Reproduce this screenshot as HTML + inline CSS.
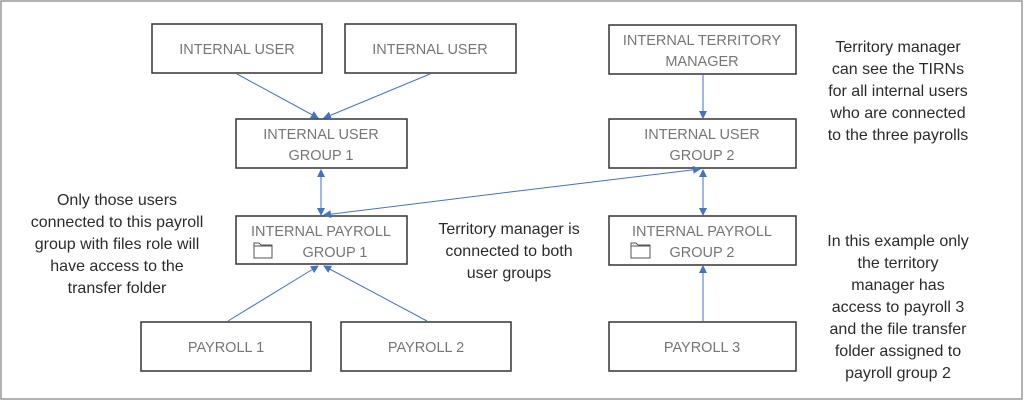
<!DOCTYPE html>
<html><head><style>
body{margin:0;width:1024px;height:401px;background:#fff;overflow:hidden;}
svg{display:block}
.b{fill:#fff;stroke:#333;stroke-width:1.5}
.t{font-family:"Liberation Sans",sans-serif;font-size:14.5px;fill:#767676;text-anchor:middle}
.a{font-family:"Liberation Sans",sans-serif;font-size:16px;fill:#2b2b2b;text-anchor:middle}
.l{stroke:#4472C4;stroke-width:1;fill:none}
</style></head><body>
<svg width="1024" height="401" viewBox="0 0 1024 401">
<defs><marker id="m" markerWidth="8" markerHeight="8" refX="7" refY="4" orient="auto" markerUnits="userSpaceOnUse"><path d="M0,0 L8,4 L0,8 z" fill="#4472C4"/></marker></defs>
<rect x="1" y="1" width="1021" height="398" fill="none" stroke="#999" stroke-width="1.5"/>
<rect class="b" x="152" y="24" width="170" height="49"/><text class="t" x="237" y="54">INTERNAL USER</text>
<rect class="b" x="345" y="24" width="171" height="49"/><text class="t" x="430" y="54">INTERNAL USER</text>
<rect class="b" x="236" y="119" width="171" height="49"/><text class="t" x="321" y="139">INTERNAL USER</text><text class="t" x="321" y="160">GROUP 1</text>
<rect class="b" x="236" y="216" width="171" height="48"/><text class="t" x="321" y="236">INTERNAL PAYROLL</text><text class="t" x="335" y="257">GROUP 1</text>
<path d="M254,243 h5 l2,2 h11 v13 h-18 z M254,246 h18" fill="none" stroke="#555" stroke-width="1"/>
<rect class="b" x="141" y="322" width="170" height="49"/><text class="t" x="226" y="352">PAYROLL 1</text>
<rect class="b" x="341" y="322" width="170" height="49"/><text class="t" x="426" y="352">PAYROLL 2</text>
<rect class="b" x="609" y="25" width="187" height="49"/><text class="t" x="702" y="45">INTERNAL TERRITORY</text><text class="t" x="702" y="66">MANAGER</text>
<rect class="b" x="609" y="119" width="187" height="49"/><text class="t" x="702" y="139">INTERNAL USER</text><text class="t" x="702" y="160">GROUP 2</text>
<rect class="b" x="609" y="216" width="187" height="49"/><text class="t" x="702" y="236">INTERNAL PAYROLL</text><text class="t" x="702" y="257">GROUP 2</text>
<path d="M631,243 h5 l2,2 h12 v13 h-19 z M631,246 h19" fill="none" stroke="#555" stroke-width="1"/>
<rect class="b" x="609" y="322" width="187" height="49"/><text class="t" x="702" y="352">PAYROLL 3</text>
<line class="l" x1="237" y1="74" x2="318" y2="118" marker-end="url(#m)"/>
<line class="l" x1="430" y1="74" x2="324" y2="118" marker-end="url(#m)"/>
<line class="l" x1="703" y1="75" x2="703" y2="118" marker-end="url(#m)"/>
<line class="l" x1="321" y1="190" x2="321" y2="170" marker-end="url(#m)"/>
<line class="l" x1="321" y1="190" x2="321" y2="215" marker-end="url(#m)"/>
<line class="l" x1="510" y1="192" x2="324" y2="215" marker-end="url(#m)"/>
<line class="l" x1="510" y1="192" x2="700" y2="169" marker-end="url(#m)"/>
<line class="l" x1="703" y1="190" x2="703" y2="170" marker-end="url(#m)"/>
<line class="l" x1="703" y1="190" x2="703" y2="215" marker-end="url(#m)"/>
<line class="l" x1="228" y1="321" x2="318" y2="266" marker-end="url(#m)"/>
<line class="l" x1="427" y1="321" x2="324" y2="266" marker-end="url(#m)"/>
<line class="l" x1="703" y1="321" x2="703" y2="266" marker-end="url(#m)"/>
<text class="a" x="117" y="205">Only those users</text>
<text class="a" x="117" y="227">connected to this payroll</text>
<text class="a" x="117" y="249">group with files role will</text>
<text class="a" x="117" y="271">have access to the</text>
<text class="a" x="117" y="293">transfer folder</text>
<text class="a" x="509" y="234">Territory manager is</text>
<text class="a" x="509" y="256">connected to both</text>
<text class="a" x="509" y="278">user groups</text>
<text class="a" x="898" y="52">Territory manager</text>
<text class="a" x="898" y="74">can see the TIRNs</text>
<text class="a" x="898" y="96">for all internal users</text>
<text class="a" x="898" y="118">who are connected</text>
<text class="a" x="898" y="140">to the three payrolls</text>
<text class="a" x="898" y="246">In this example only</text>
<text class="a" x="898" y="268">the territory</text>
<text class="a" x="898" y="290">manager has</text>
<text class="a" x="898" y="312">access to payroll 3</text>
<text class="a" x="898" y="334">and the file transfer</text>
<text class="a" x="898" y="356">folder assigned to</text>
<text class="a" x="898" y="378">payroll group 2</text>
</svg>
</body></html>
